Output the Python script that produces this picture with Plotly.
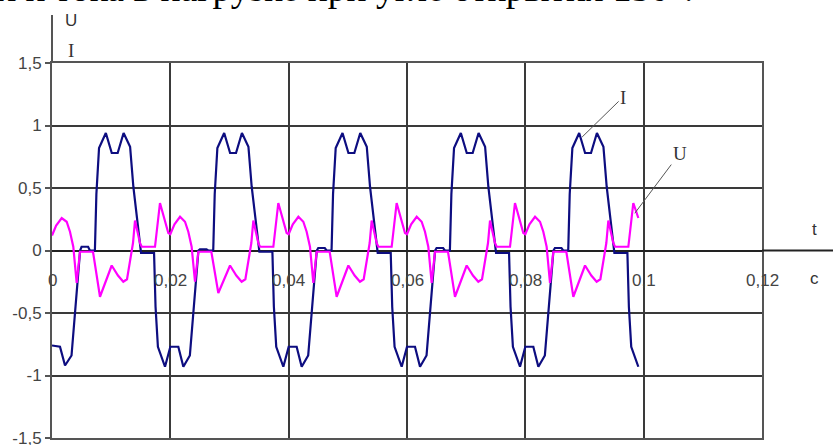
import plotly.graph_objects as go

# ---- data (time in s, values in p.u.) ----
t_I = [
    0.0, 0.00135, 0.0022, 0.0033, 0.00475, 0.005, 0.0061, 0.0064, 0.00725, 0.0075, 0.00795, 0.0091,
    0.0101, 0.0111, 0.0121, 0.0132, 0.01375, 0.0149, 0.01505, 0.01725, 0.0175, 0.0179, 0.0191,
    0.02, 0.02135, 0.0222, 0.0233, 0.02475, 0.025, 0.0261, 0.0264, 0.02725, 0.0275, 0.02795, 0.0291,
    0.0301, 0.0311, 0.0321, 0.0332, 0.03375, 0.0349, 0.03505, 0.03725, 0.0375, 0.0379, 0.0391,
    0.04, 0.04135, 0.0422, 0.0433, 0.04475, 0.045, 0.0461, 0.0464, 0.04725, 0.0475, 0.04795, 0.0491,
    0.0501, 0.0511, 0.0521, 0.0532, 0.05375, 0.0549, 0.05505, 0.05725, 0.0575, 0.0579, 0.0591,
    0.06, 0.06135, 0.0622, 0.0633, 0.06475, 0.065, 0.0661, 0.0664, 0.06725, 0.0675, 0.06795, 0.0691,
    0.0701, 0.0711, 0.0721, 0.0732, 0.07375, 0.0749, 0.07505, 0.07725, 0.0775, 0.0779, 0.0791,
    0.08, 0.08135, 0.0822, 0.0833, 0.08475, 0.085, 0.0861, 0.0864, 0.08725, 0.0875, 0.08795, 0.0891,
    0.0901, 0.0911, 0.0921, 0.0932, 0.09375, 0.0949, 0.09505, 0.09725, 0.0975, 0.0979, 0.0991,
]
I_vals = [
    -0.76, -0.77, -0.92, -0.84, 0.0, 0.03, 0.03, 0.0, 0.0, 0.45, 0.82, 0.94,
    0.78, 0.78, 0.94, 0.83, 0.51, 0.06, -0.02, -0.02, -0.45, -0.77, -0.93,
    -0.77, -0.77, -0.93, -0.84, 0.0, 0.01, 0.01, 0.0, 0.0, 0.45, 0.82, 0.94,
    0.78, 0.78, 0.94, 0.83, 0.51, 0.06, -0.01, -0.01, -0.45, -0.77, -0.93,
    -0.77, -0.77, -0.93, -0.84, 0.0, 0.02, 0.02, 0.0, 0.0, 0.45, 0.82, 0.94,
    0.78, 0.78, 0.94, 0.83, 0.51, 0.06, -0.02, -0.02, -0.45, -0.77, -0.93,
    -0.77, -0.77, -0.93, -0.84, 0.0, 0.02, 0.02, 0.0, 0.0, 0.45, 0.82, 0.94,
    0.78, 0.78, 0.94, 0.83, 0.51, 0.06, -0.02, -0.02, -0.45, -0.77, -0.93,
    -0.77, -0.77, -0.93, -0.84, 0.0, 0.02, 0.02, 0.0, 0.0, 0.45, 0.82, 0.94,
    0.78, 0.78, 0.94, 0.83, 0.51, 0.06, -0.02, -0.02, -0.45, -0.77, -0.93,
]

t_U = [
    0.0, 0.0007, 0.00164, 0.00248, 0.00304, 0.0036, 0.00417, 0.00473, 0.00693, 0.00811, 0.01009,
    0.01115, 0.01205, 0.01268, 0.01369, 0.01403, 0.01487, 0.01516, 0.01741, 0.01825, 0.01966,
    0.02, 0.0207, 0.02164, 0.02248, 0.02304, 0.0236, 0.02417, 0.02473, 0.02693, 0.02811, 0.03009,
    0.03115, 0.03205, 0.03268, 0.03369, 0.03403, 0.03487, 0.03516, 0.03741, 0.03825, 0.03966,
    0.04, 0.0407, 0.04164, 0.04248, 0.04304, 0.0436, 0.04417, 0.04473, 0.04693, 0.04811, 0.05009,
    0.05115, 0.05205, 0.05268, 0.05369, 0.05403, 0.05487, 0.05516, 0.05741, 0.05825, 0.05966,
    0.06, 0.0607, 0.06164, 0.06248, 0.06304, 0.0636, 0.06417, 0.06473, 0.06693, 0.06811, 0.07009,
    0.07115, 0.07205, 0.07268, 0.07369, 0.07403, 0.07487, 0.07516, 0.07741, 0.07825, 0.07966,
    0.08, 0.0807, 0.08164, 0.08248, 0.08304, 0.0836, 0.08417, 0.08473, 0.08693, 0.08811, 0.09009,
    0.09115, 0.09205, 0.09268, 0.09369, 0.09403, 0.09487, 0.09516, 0.09741, 0.09825, 0.0991,
]
U_vals = [
    0.12, 0.20, 0.26, 0.23, 0.15, 0.03, -0.26, -0.01, -0.01, -0.37, -0.12,
    -0.20, -0.25, -0.23, 0.06, 0.24, 0.06, 0.03, 0.03, 0.38, 0.14,
    0.13, 0.21, 0.27, 0.23, 0.15, 0.03, -0.25, -0.01, -0.01, -0.34, -0.12,
    -0.20, -0.25, -0.23, 0.06, 0.24, 0.06, 0.03, 0.03, 0.38, 0.14,
    0.13, 0.21, 0.27, 0.23, 0.15, 0.03, -0.26, -0.01, -0.01, -0.37, -0.12,
    -0.20, -0.25, -0.23, 0.06, 0.24, 0.06, 0.03, 0.03, 0.38, 0.14,
    0.13, 0.21, 0.27, 0.23, 0.15, 0.03, -0.26, -0.01, -0.01, -0.37, -0.12,
    -0.20, -0.25, -0.23, 0.06, 0.24, 0.06, 0.03, 0.03, 0.38, 0.14,
    0.13, 0.21, 0.27, 0.23, 0.15, 0.03, -0.26, -0.01, -0.01, -0.37, -0.12,
    -0.20, -0.25, -0.23, 0.06, 0.24, 0.06, 0.03, 0.03, 0.38, 0.26,
]

x_ticks = [0, 0.02, 0.04, 0.06, 0.08, 0.1, 0.12]
x_tick_labels = ["0", "0,02", "0,04", "0,06", "0,08", "0,1", "0,12"]
y_ticks = [-1.5, -1, -0.5, 0, 0.5, 1, 1.5]
y_tick_labels = ["-1,5", "-1", "-0,5", "0", "0,5", "1", "1,5"]

caption = "я и тока в нагрузке при угле открытия 150°."

# ---- layout constants ----
W, H = 833, 445
ML, MR, MT, MB = 52, 71, 63, 7
PW, PH = W - ML - MR, H - MT - MB


def px(x):
    return (x - ML) / PW


def py(y):
    return (H - MB - y) / PH


GRID = "#3a3a3a"
AX = "#555555"
TXT = "#444444"
SANS = "Liberation Sans, Arial, sans-serif"
SERIF = "Liberation Serif, Times New Roman, serif"

fig = go.Figure()
fig.add_trace(go.Scatter(x=t_I, y=I_vals, mode="lines", name="I",
                         line=dict(color="#0d0d80", width=2.2), hoverinfo="skip"))
fig.add_trace(go.Scatter(x=t_U, y=U_vals, mode="lines", name="U",
                         line=dict(color="#ff00ff", width=2.2), hoverinfo="skip"))

fig.update_layout(
    width=W, height=H,
    margin=dict(l=ML, r=MR, t=MT, b=MB, autoexpand=False),
    paper_bgcolor="white", plot_bgcolor="white",
    showlegend=False,
    xaxis=dict(range=[0, 0.12], tickvals=x_ticks, showticklabels=False,
               automargin=False,
               showgrid=True, gridcolor=GRID, gridwidth=1.6,
               zeroline=False, showline=True, mirror=True,
               linecolor=AX, linewidth=2, ticks=""),
    yaxis=dict(range=[-1.5, 1.5], tickvals=y_ticks, ticktext=y_tick_labels,
               automargin=False,
               showgrid=True, gridcolor=GRID, gridwidth=1.6,
               zeroline=True, zerolinecolor="#222222", zerolinewidth=2,
               showline=True, mirror=True, linecolor=AX, linewidth=2,
               ticks="outside", ticklen=5, tickwidth=1.5, tickcolor=AX,
               ticklabeloverflow="allow",
               tickfont=dict(family=SANS, size=17, color=TXT)),
)

# axis extensions
fig.add_shape(type="line", xref="paper", yref="paper", x0=0, x1=0, y0=1, y1=py(15),
              line=dict(color=AX, width=2))
fig.add_shape(type="line", xref="paper", yref="paper", x0=1, x1=px(W + 2), y0=0.5, y1=0.5,
              line=dict(color="#222222", width=2))

# x tick labels along the zero line
for xv, lab in zip(x_ticks, x_tick_labels):
    fig.add_annotation(x=xv, y=0, xref="x", yref="y", text=lab, showarrow=False,
                       yshift=-30, xanchor="center", yanchor="middle",
                       font=dict(family=SANS, size=17, color=TXT))

# axis names
for txt, xx, yy, fam, sz in [("t", 815, 229, SANS, 17), ("c", 815, 278, SANS, 17),
                             ("U", 71, 21, SANS, 17), ("I", 71, 50, SERIF, 19)]:
    fig.add_annotation(x=px(xx), y=py(yy), xref="paper", yref="paper", text=txt,
                       showarrow=False, xanchor="center", yanchor="middle",
                       font=dict(family=fam, size=sz, color="#333"))

# curve callouts
fig.add_annotation(x=0.0896, y=0.908, xref="x", yref="y", text="I", showarrow=True,
                   arrowhead=0, arrowwidth=1, arrowcolor="#555", ax=41, ay=-40,
                   font=dict(family=SERIF, size=19, color="#333"))
fig.add_annotation(x=0.0985, y=0.298, xref="x", yref="y", text="U", showarrow=True,
                   arrowhead=0, arrowwidth=1, arrowcolor="#555", ax=45, ay=-60,
                   font=dict(family=SERIF, size=19, color="#333"))

# clipped caption at the top (cut by the image edge, as in the reference)
fig.add_annotation(x=px(-3), y=py(-11), xref="paper", yref="paper", text=caption,
                   showarrow=False, xanchor="left", yanchor="middle",
                   font=dict(family=SERIF, size=37.5, color="black"))

fig.write_html("out.html")
